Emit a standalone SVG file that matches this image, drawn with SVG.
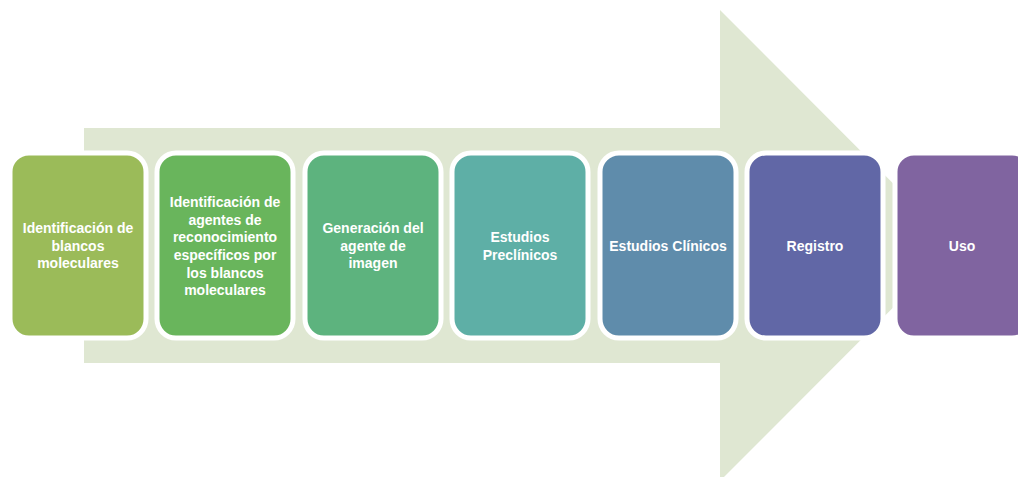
<svg xmlns="http://www.w3.org/2000/svg" width="1018" height="477" viewBox="0 0 1018 477">
  <style>
    .step { stroke: #ffffff; stroke-width: 5; }
    .label { font-family: "Liberation Sans", Arial, sans-serif; font-weight: bold; font-size: 14px; fill: #ffffff; text-anchor: middle; }
  </style>
  <rect width="1018" height="477" fill="#ffffff"/>

  <!-- background process arrow -->
  <g id="connectors">
    <polygon points="84,128 720,128 720,10 955,245.5 720,481 720,363 84,363" fill="#dfe7d2"/>
  </g>

  <g id="step1">
    <rect class="step" x="10" y="153" width="136" height="185" rx="19" fill="#9bbb59"/>
    <text class="label" x="78" y="233">Identificación de</text>
    <text class="label" x="78" y="251">blancos</text>
    <text class="label" x="78" y="268">moleculares</text>
  </g>
  <g id="step2">
    <rect class="step" x="157" y="153" width="136" height="185" rx="19" fill="#69b55c"/>
    <text class="label" x="225" y="207">Identificación de</text>
    <text class="label" x="225" y="225">agentes de</text>
    <text class="label" x="225" y="242">reconocimiento</text>
    <text class="label" x="225" y="260">específicos por</text>
    <text class="label" x="225" y="278">los blancos</text>
    <text class="label" x="225" y="295">moleculares</text>
  </g>
  <g id="step3">
    <rect class="step" x="305" y="153" width="136" height="185" rx="19" fill="#5db37e"/>
    <text class="label" x="373" y="233">Generación del</text>
    <text class="label" x="373" y="251">agente de</text>
    <text class="label" x="373" y="268">imagen</text>
  </g>
  <g id="step4">
    <rect class="step" x="452" y="153" width="136" height="185" rx="19" fill="#5eafa6"/>
    <text class="label" x="520" y="242">Estudios</text>
    <text class="label" x="520" y="260">Preclínicos</text>
  </g>
  <g id="step5">
    <rect class="step" x="600" y="153" width="136" height="185" rx="19" fill="#5f8cab"/>
    <text class="label" x="668" y="251">Estudios Clínicos</text>
  </g>
  <g id="step6">
    <rect class="step" x="747" y="153" width="136" height="185" rx="19" fill="#6167a6"/>
    <text class="label" x="815" y="251">Registro</text>
  </g>
  <g id="step7">
    <rect class="step" x="895" y="153" width="136" height="185" rx="19" fill="#8064a0"/>
    <text class="label" x="962" y="251">Uso</text>
  </g>
</svg>
